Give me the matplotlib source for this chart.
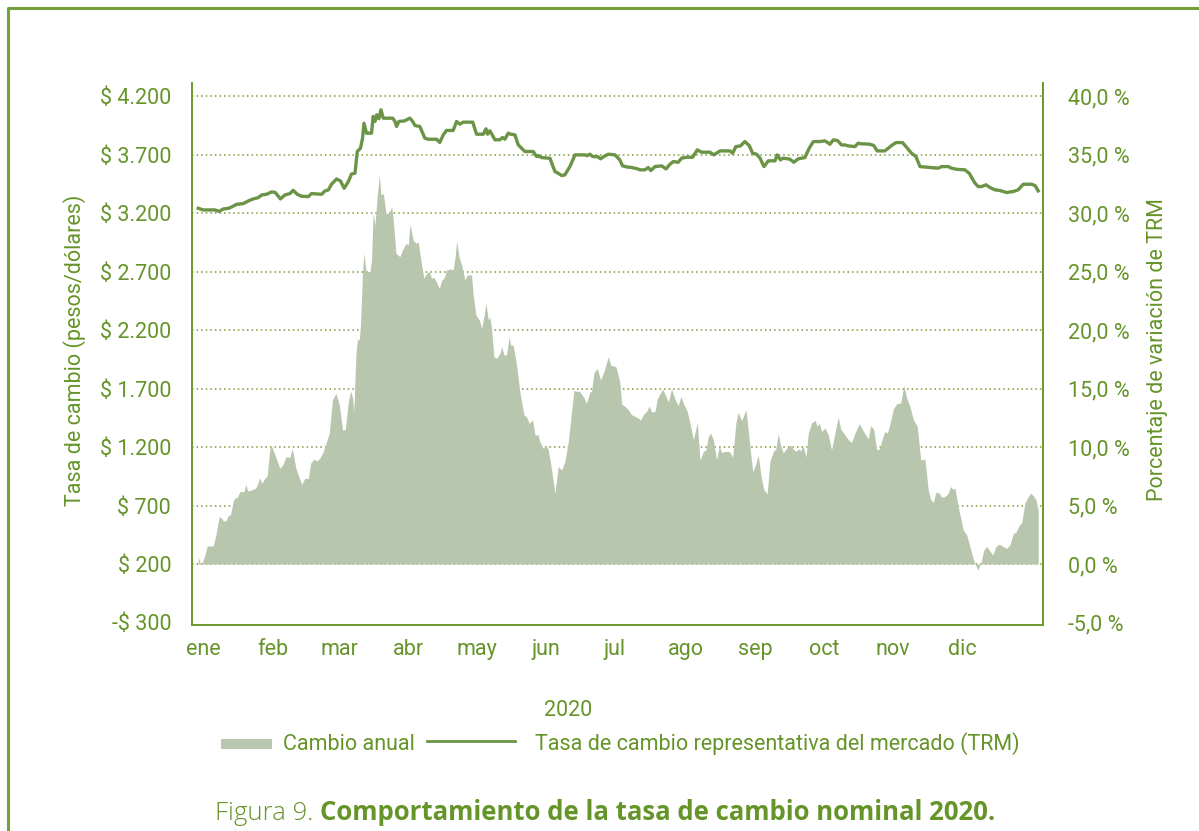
import matplotlib
matplotlib.use("Agg")
import matplotlib.pyplot as plt
from matplotlib.lines import Line2D
from matplotlib.patches import Rectangle

# TRM (pesos per dollar): day of year 2020 -> value
trm_dias = [0.7, 2.9, 8.0, 9.8, 11.6, 13.8, 15.2, 17.4, 20.3, 22.5, 24.6, 26.8, 28.3, 30.4,
            32.6, 34.1, 35.1, 36.5, 38.4, 40.6, 42.0, 43.8, 45.7, 48.6, 50.0, 54.4, 55.8,
            57.3, 58.7, 60.9, 62.6, 64.2, 66.0, 67.4, 68.9, 69.9, 71.3, 72.2, 72.8, 73.9,
            76.1, 76.8, 77.6, 78.3, 79.3, 80.2, 81.2, 85.3, 86.3, 87.0, 88.0, 90.6, 91.3,
            92.8, 94.0, 95.0, 97.1, 99.3, 100.8, 104.4, 105.8, 107.3, 108.7, 111.6, 113.1,
            114.5, 116.0, 120.1, 121.8, 124.7, 125.9, 126.6, 127.6, 129.8, 131.9, 133.1,
            134.1, 135.6, 136.6, 138.5, 139.9, 142.8, 146.4, 147.9, 148.6, 150.1, 153.7,
            155.9, 157.3, 158.8, 160.2, 162.4, 164.6, 168.9, 169.9, 171.1, 172.3, 174.7,
            175.7, 177.6, 179.1, 182.0, 184.1, 185.3, 187.1, 189.2, 191.4, 192.9, 195.0,
            196.5, 197.6, 199.4, 202.3, 204.2, 205.9, 207.4, 209.5, 211.0, 213.2, 215.8,
            217.8, 219.7, 223.3, 225.0, 227.7, 232.0, 233.2, 234.6, 236.6, 238.5, 240.4,
            241.9, 243.6, 245.1, 246.8, 248.7, 251.6, 252.6, 254.0, 255.2, 258.1, 259.8,
            261.7, 264.6, 266.5, 268.3, 271.2, 273.3, 274.3, 275.5, 277.0, 278.8, 280.6,
            282.0, 283.5, 286.4, 287.8, 289.3, 290.7, 292.9, 294.6, 296.1, 299.4, 300.9,
            302.3, 304.2, 307.1, 308.6, 311.0, 312.9, 314.7, 319.0, 322.6, 324.1, 327.0,
            328.4, 330.6, 334.2, 336.1, 338.6, 340.0, 341.5, 343.4, 345.1, 347.3, 349.5,
            352.4, 355.3, 357.4, 359.6, 363.2, 364.7, 366.1]
trm = [3243, 3229, 3229, 3217, 3237, 3243, 3254, 3277, 3283, 3306, 3323, 3334, 3357, 3363,
       3383, 3380, 3357, 3323, 3357, 3369, 3397, 3363, 3346, 3343, 3369, 3363, 3391,
       3400, 3449, 3494, 3477, 3414, 3471, 3537, 3543, 3729, 3757, 3843, 3971, 3886,
       3886, 4029, 3986, 4043, 4009, 4086, 4014, 4014, 3986, 3943, 3986, 3991, 4000,
       4014, 3986, 3951, 3943, 3843, 3834, 3834, 3806, 3871, 3909, 3909, 3986,
       3963, 3980, 3980, 3877, 3877, 3923, 3877, 3906, 3829, 3829, 3849,
       3834, 3886, 3877, 3871, 3786, 3729, 3729, 3686, 3694, 3677, 3671,
       3557, 3543, 3523, 3529, 3600, 3700, 3700, 3694, 3706, 3686, 3683,
       3666, 3691, 3706, 3700, 3657, 3606, 3597, 3592, 3583, 3572, 3572,
       3592, 3566, 3600, 3606, 3580, 3620, 3643, 3637, 3672, 3680, 3680,
       3743, 3723, 3723, 3700, 3734, 3734, 3714, 3771, 3777, 3814, 3780,
       3714, 3706, 3672, 3600, 3649, 3649, 3700, 3657, 3672, 3663, 3637,
       3666, 3677, 3757, 3814, 3814, 3820, 3808, 3791, 3828, 3823, 3785,
       3785, 3777, 3771, 3800, 3794, 3794, 3791, 3780, 3734, 3734, 3757,
       3780, 3805, 3805, 3771, 3714, 3686, 3600, 3592, 3586, 3600, 3600,
       3586, 3577, 3572, 3543, 3458, 3429, 3429, 3444, 3421, 3401, 3395,
       3378, 3387, 3401, 3449, 3449, 3438, 3392]

# Cambio anual (%), day of year 2020 -> value
cambio_dias = [0.7, 1.4, 2.6, 3.6, 4.6, 7.2, 8.4, 9.8, 10.9, 11.6, 12.7, 13.8, 14.8, 15.9,
               16.7, 17.7, 18.8, 20.6, 21.4, 22.2, 23.9, 25.4, 26.1, 27.5, 28.3, 29.7, 30.7,
               31.9, 32.6, 34.1, 36.2, 37.7, 38.8, 40.6, 41.6, 43.2, 44.2, 45.7, 47.1, 48.6,
               49.6, 51.0, 52.2, 53.6, 55.1, 56.5, 57.7, 59.1, 60.6, 62.1, 63.5, 64.7, 66.0,
               67.0, 67.9, 68.4, 69.3, 69.9, 70.8, 71.3, 72.2, 72.8, 73.7, 75.4, 76.1, 76.8,
               77.6, 78.6, 79.5, 80.2, 81.2, 82.4, 83.8, 84.8, 85.5, 86.7, 88.4, 89.9, 91.1,
               92.1, 92.8, 94.2, 95.4, 96.4, 97.9, 98.9, 100.0, 101.2, 102.2, 103.2, 104.4,
               105.6, 106.6, 107.6, 108.7, 110.5, 111.6, 112.4, 113.1, 114.3, 115.3, 116.7,
               117.7, 119.6, 120.3, 121.5, 123.0, 124.0, 125.0, 125.9, 126.9, 127.6, 128.3,
               129.3, 130.5, 131.9, 132.7, 133.7, 134.8, 136.0, 136.6, 137.7, 139.2, 140.6,
               142.4, 143.5, 144.7, 146.2, 147.2, 148.6, 149.3, 150.8, 152.0, 153.0, 154.1,
               155.9, 157.3, 158.8, 160.2, 161.7, 163.1, 164.1, 166.7, 168.5, 169.6, 171.1,
               171.8, 172.8, 174.3, 175.7, 177.2, 179.1, 180.1, 182.4, 184.1,
               184.9, 186.3, 187.8, 189.2, 190.7, 192.1, 193.1, 194.3, 195.8, 196.9, 197.9,
               199.4, 200.4, 201.6, 202.7, 203.7, 205.2, 206.6, 208.1, 209.5, 210.7, 211.7,
               213.4, 214.6, 216.1, 217.8, 219.0, 220.4, 221.6, 222.6, 223.6, 224.8, 226.2,
               227.4, 228.4, 229.8, 231.7, 233.2, 234.6, 235.6, 237.1, 239.0, 240.4, 241.9,
               242.9, 244.3, 245.8, 246.8, 248.2, 249.4, 250.9, 252.0, 253.0, 254.0, 255.2,
               256.7, 258.1, 259.6, 260.7, 261.7, 262.7, 263.9, 265.1, 266.1, 267.5, 269.0,
               270.0, 270.9, 271.9, 273.3, 274.8, 276.2, 277.7, 279.1, 280.3, 282.0, 283.5,
               284.9, 286.4, 288.3, 289.7, 291.5, 292.2, 293.2, 294.6, 295.8, 297.0, 298.4,
               299.4, 300.5, 301.6, 303.1, 304.5, 306.3, 307.7, 308.9, 310.3, 311.8, 313.5,
               315.0, 316.8, 318.3, 319.3, 320.5, 321.6, 323.1, 324.1, 325.5, 327.0, 328.0,
               328.9, 329.9, 331.3, 333.5, 335.0, 336.4, 337.9, 339.8, 341.1, 342.5, 343.7,
               344.8, 346.3, 347.7, 349.2, 350.9, 352.4, 353.8, 355.3, 356.4, 357.9, 358.9,
               360.3, 361.4, 362.8, 364.0, 365.1, 366.1]
cambio = [0.63, 0.14, 0.14, 0.77, 1.54, 1.54, 2.48, 4.05, 3.91, 3.68, 3.68, 4.13, 4.25, 5.33,
          5.67, 5.67, 6.19, 6.19, 6.81, 6.24, 6.33, 6.47, 6.62, 7.39, 6.90, 7.33, 7.56,
          9.89, 10.09, 9.32, 8.18, 8.55, 9.18, 9.12, 9.89, 8.18, 7.61, 6.81, 7.33, 7.33,
          8.61, 8.98, 8.81, 9.04, 9.61, 10.46, 11.18, 14.03, 14.60, 13.60, 11.46, 11.52, 13.89,
          14.80, 14.17, 13.03, 17.88, 19.16, 19.22, 20.44, 25.01, 26.58, 25.01, 25.01, 26.01, 30.00,
          29.00, 31.57, 33.28, 31.57, 31.71, 30.00, 30.00, 30.57, 29.57, 26.58, 26.29, 27.00, 27.43,
          27.29, 29.06, 27.72, 27.43, 27.57, 25.58, 24.44, 24.86, 25.01, 24.44, 24.52, 24.09,
          23.58, 24.29, 24.44, 25.15, 25.24, 25.15, 26.15, 27.63, 26.15, 25.58, 24.29,
          24.72, 24.72, 23.01, 21.30, 20.87, 20.16, 21.16, 22.30, 20.87, 21.10, 20.16,
          17.74, 17.59, 18.02, 18.59, 17.88, 17.88, 19.45, 18.73, 18.73, 17.02, 14.74,
          12.75, 12.60, 12.03, 12.32, 11.04, 11.04, 10.46, 9.89, 10.18, 9.75, 8.47,
          6.05, 8.33, 8.04, 8.75, 10.46, 13.03, 14.83, 14.74, 14.23, 13.74, 14.74,
          14.74, 16.31, 16.74, 15.74, 16.45, 17.74, 17.02, 16.88, 15.60,
          13.69, 13.49, 13.20, 12.77, 12.63, 12.49, 12.29, 12.77, 13.06, 13.54, 13.00,
          13.06, 14.11, 14.57, 14.97, 14.57, 13.86, 14.97, 14.11, 13.54, 14.34, 13.77,
          13.06, 12.06, 10.63, 12.11, 8.86, 9.63, 9.77, 10.91, 11.20, 10.63, 8.91,
          10.06, 9.54, 9.63, 9.63, 9.14, 12.06, 12.97, 12.26, 13.20, 10.63, 7.91,
          8.34, 9.29, 7.20, 6.34, 6.00, 8.77, 9.63, 9.86, 11.14, 10.20, 9.49,
          9.91, 10.20, 9.83, 9.63, 9.83, 9.71, 10.06, 9.14, 11.20, 12.06, 12.29,
          11.77, 12.06, 11.34, 11.63, 11.06, 9.77, 11.20, 12.57, 11.49, 11.06, 10.63,
          10.40, 11.20, 12.00, 11.49, 10.91, 10.71, 11.83, 11.49, 9.77, 9.83, 10.77,
          11.34, 11.20, 11.97, 13.26, 13.71, 13.77, 15.26, 14.20, 13.49, 12.34, 11.77,
          8.91, 8.97, 6.34, 5.54, 5.26, 6.14, 6.06, 5.71, 5.77, 6.06, 6.63,
          6.40, 6.49, 4.91, 2.91, 2.49, 1.49, 0.40, -0.51, 0.06, 1.20, 1.49,
          1.20, 0.77, 1.49, 1.69, 1.49, 1.34, 1.63, 2.63, 2.69, 3.34, 3.49,
          5.20, 5.63, 6.06, 5.83, 5.49, 4.63]

meses = ["ene", "feb", "mar", "abr", "may", "jun", "jul", "ago", "sep", "oct", "nov", "dic"]
inicio_mes = [3, 33, 62, 92, 122, 152, 182, 213, 243, 273, 303, 333]
pesos_ticks = [-300, 200, 700, 1200, 1700, 2200, 2700, 3200, 3700, 4200]
pct_ticks = [-5, 0, 5, 10, 15, 20, 25, 30, 35, 40]

verde_txt = "#659428"
verde_linea = "#6b9446"
verde_area = "#b8c6ad"
verde_eje = "#6f9a2e"
tam = 15.5

plt.rcParams["font.family"] = ["Roboto", "DejaVu Sans"]

fig = plt.figure(figsize=(11.99, 8.31), dpi=100)
ax2 = fig.add_axes([192/1199, 1-625/831, 851/1199, 542/831])
ax = ax2.twinx()

# area (right axis, %)
ax2.fill_between(cambio_dias, cambio, 0, color=verde_area, linewidth=0)
ax2.set_ylim(-5.22, 41.15)
ax2.set_yticks(pct_ticks)
ax2.set_yticklabels([("%.1f %%" % p).replace(".", ",") for p in pct_ticks])
ax2.yaxis.tick_right()
ax2.yaxis.grid(True, linestyle=(0, (1, 2)), color="#7a9a3a", linewidth=1.1)
ax2.set_axisbelow(True)
ax2.yaxis.get_gridlines()[0].set_visible(False)

ax2.set_xlim(-2, 368.2)
ax2.set_xticks(inicio_mes)
ax2.set_xticklabels(meses)
ax2.tick_params(axis="x", length=0, pad=10, labelsize=tam, labelcolor=verde_txt)

# line (left axis, pesos)
ax.plot(trm_dias, trm, color=verde_linea, linewidth=2.4, solid_joinstyle="round")
ax.set_ylim(-322, 4315)
ax.set_yticks(pesos_ticks)
ax.set_yticklabels([("-$ %s" % format(-v, ",") if v < 0 else "$ %s" % format(v, ",")).replace(",", ".")
                    for v in pesos_ticks])
ax.yaxis.tick_left()
ax.set_zorder(ax2.get_zorder() + 1)
ax.patch.set_visible(False)

for a in (ax, ax2):
    a.spines["top"].set_visible(False)
    for s in ("left", "right", "bottom"):
        a.spines[s].set_color(verde_eje)
        a.spines[s].set_linewidth(1.3)
    a.tick_params(axis="y", length=0, labelsize=tam, labelcolor=verde_txt)
ax.tick_params(axis="y", pad=15)
ax2.tick_params(axis="y", pad=18)

fig.text(75/1199, 1-350/831, "Tasa de cambio (pesos/dólares)", rotation=90, ha="center", va="center",
         fontsize=tam, color=verde_txt)
fig.text(1158/1199, 1-350/831, "Porcentaje de variación de TRM", rotation=90, ha="center", va="center",
         fontsize=tam, color=verde_txt)
fig.text(568/1199, 1-711/831, "2020", ha="center", va="center", fontsize=tam, color=verde_txt)

# legend
fig.add_artist(Rectangle((221/1199, 1-749/831), 51/1199, 10/831, transform=fig.transFigure,
                         color=verde_area, linewidth=0))
fig.text(283/1199, 1-744/831, "Cambio anual", ha="left", va="center", fontsize=tam, color=verde_txt)
fig.add_artist(Line2D([427/1199, 515/1199], [1-741/831, 1-741/831], transform=fig.transFigure,
                      color=verde_linea, linewidth=2))
fig.text(535/1199, 1-744/831, "Tasa de cambio representativa del mercado (TRM)", ha="left", va="center",
         fontsize=tam, color=verde_txt)

# caption
t1 = fig.text(215/1199, 1-813/831, "Figura 9. ", ha="left", va="center", fontsize=18.5,
              color=verde_txt, family=["Open Sans", "DejaVu Sans"], fontweight="light")
fig.canvas.draw()
bb = t1.get_window_extent()
fig.text(bb.x1 / fig.bbox.width, 1-813/831, "Comportamiento de la tasa de cambio nominal 2020.",
         fontsize=18.5, color=verde_txt, family=["Open Sans", "DejaVu Sans"], fontweight="bold",
         ha="left", va="center")

# frame
fig.add_artist(Line2D([8/1199, 8/1199, 1.0], [0.0, 1-8/831, 1-8/831], transform=fig.transFigure,
                      color="#72a03c", linewidth=2.2))

fig.savefig("out.png", dpi=100)
